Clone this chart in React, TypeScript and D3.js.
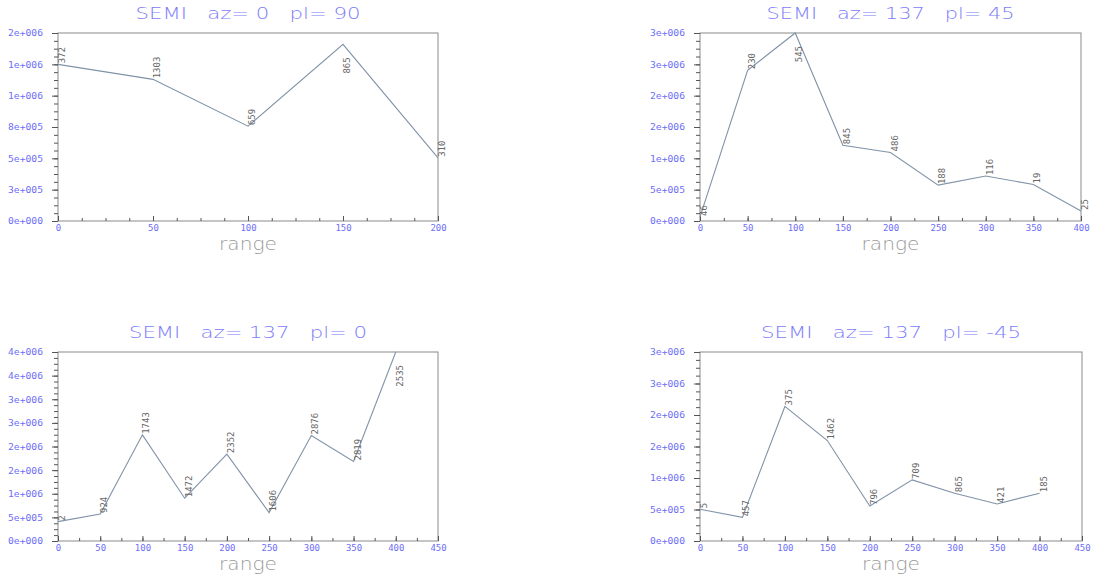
import React, { useEffect, useRef } from "react";
import * as d3 from "d3";

// four directional semivariograms, lag distance vs gamma, with pair counts
const titles = [
  "SEMI   az= 0   pl= 90",
  "SEMI   az= 137   pl= 45",
  "SEMI   az= 137   pl= 0",
  "SEMI   az= 137   pl= -45",
];

const lags1 = [0, 50, 100, 150, 200];
const gamma1 = [1250000, 1130000, 757000, 1410000, 504000];
const pairs1 = ["372", "1303", "659", "865", "310"];

const lags2 = [0, 50, 100, 150, 200, 250, 300, 350, 400];
const gamma2 = [65000, 2405000, 3000000, 1210000, 1094000, 573000, 717000, 584000, 159000];
const pairs2 = ["46", "230", "545", "845", "486", "188", "116", "19", "25"];

const lags3 = [0, 50, 100, 150, 200, 250, 300, 350, 400];
const gamma3 = [410000, 572000, 2247000, 905000, 1837000, 601000, 2233000, 1682000, 4000000];
const pairs3 = ["2", "924", "1743", "1472", "2352", "1606", "2876", "2819", "2535"];

const lags4 = [0, 50, 100, 150, 200, 250, 300, 350, 400];
const gamma4 = [503000, 376000, 2136000, 1595000, 556000, 970000, 758000, 588000, 758000];
const pairs4 = ["5", "457", "375", "1462", "796", "709", "865", "421", "185"];

const xTicks1 = [0, 50, 100, 150, 200];
const xTicks2 = [0, 50, 100, 150, 200, 250, 300, 350, 400];
const xTicks3 = [0, 50, 100, 150, 200, 250, 300, 350, 400, 450];

const yLabels1 = ["0e+000", "3e+005", "5e+005", "8e+005", "1e+006", "1e+006", "2e+006"];
const yLabels2 = ["0e+000", "5e+005", "1e+006", "2e+006", "2e+006", "3e+006", "3e+006"];
const yLabels3 = ["0e+000", "5e+005", "1e+006", "2e+006", "2e+006", "3e+006", "3e+006", "4e+006", "4e+006"];

const panels = [
  { title: titles[0], lags: lags1, gamma: gamma1, pairs: pairs1, xTicks: xTicks1, xMinor: 4, yMax: 1500000, yLabels: yLabels1, box: [58, 33, 438, 221], titleW: 225 },
  { title: titles[1], lags: lags2, gamma: gamma2, pairs: pairs2, xTicks: xTicks2, xMinor: 2, yMax: 3000000, yLabels: yLabels2, box: [700, 33, 1081, 221], titleW: 248 },
  { title: titles[2], lags: lags3, gamma: gamma3, pairs: pairs3, xTicks: xTicks3, xMinor: 2, yMax: 4000000, yLabels: yLabels3, box: [58, 352, 438, 541], titleW: 238 },
  { title: titles[3], lags: lags4, gamma: gamma4, pairs: pairs4, xTicks: xTicks3, xMinor: 2, yMax: 3000000, yLabels: yLabels2, box: [700, 352, 1082, 541], titleW: 260 },
];

const BLUE = "#6e6ef7";

export default function App() {
  const ref = useRef<SVGSVGElement>(null);

  useEffect(() => {
    const svg = d3.select(ref.current);
    svg.selectAll("*").remove();

    panels.forEach((p) => {
      const [x0, y0, x1, y1] = p.box;
      const xMax = p.xTicks[p.xTicks.length - 1];
      const x = d3.scaleLinear().domain([0, xMax]).range([x0, x1]);
      const y = d3.scaleLinear().domain([0, p.yMax]).range([y1, y0]);
      const g = svg.append("g");
      const cx = (x0 + x1) / 2;

      // title
      g.append("text")
        .attr("x", cx)
        .attr("y", y0 - 14)
        .attr("text-anchor", "middle")
        .attr("textLength", p.titleW)
        .attr("lengthAdjust", "spacingAndGlyphs")
        .attr("font-family", "DejaVu Sans")
        .attr("font-weight", 200)
        .attr("font-size", 16)
        .attr("fill", "#7c7cfa")
        .style("white-space", "pre")
        .text(p.title);

      // frame
      g.append("rect")
        .attr("x", x0).attr("y", y0)
        .attr("width", x1 - x0).attr("height", y1 - y0)
        .attr("fill", "none").attr("stroke", "#8a8a8a").attr("stroke-width", 1);

      // y axis
      const nY = p.yLabels.length - 1;
      const yTicks = d3.range(nY + 1).map((i) => (i * p.yMax) / nY);
      const yMinor = d3.range(nY * 4 + 1).map((i) => (i * p.yMax) / (nY * 4));
      g.append("g")
        .attr("transform", `translate(${x0},0)`)
        .call(d3.axisLeft(y).tickValues(yMinor).tickSize(4).tickFormat(() => ""))
        .call((s) => s.select(".domain").remove());
      const ya = g.append("g")
        .attr("transform", `translate(${x0},0)`)
        .call(d3.axisLeft(y).tickValues(yTicks).tickSize(6).tickPadding(9).tickFormat((_, i) => p.yLabels[i]));
      ya.select(".domain").remove();
      ya.selectAll("text")
        .attr("font-family", "DejaVu Sans Mono")
        .attr("font-size", 9)
        .attr("textLength", 35)
        .attr("lengthAdjust", "spacingAndGlyphs")
        .attr("fill", BLUE);

      // x axis
      const xMinor = d3.range(0, xMax + 0.001, 50 / p.xMinor);
      g.append("g")
        .attr("transform", `translate(0,${y1})`)
        .call(d3.axisBottom(x).tickValues(xMinor).tickSize(-3).tickFormat(() => ""))
        .call((s) => s.select(".domain").remove());
      const xa = g.append("g")
        .attr("transform", `translate(0,${y1})`)
        .call(d3.axisBottom(x).tickValues(p.xTicks).tickSize(-5).tickPadding(4).tickFormat(d3.format("d")));
      xa.select(".domain").remove();
      xa.selectAll("text")
        .attr("font-family", "DejaVu Sans Mono")
        .attr("font-size", 9)
        .attr("fill", BLUE);
      g.selectAll(".tick line").attr("stroke", "#555");

      // axis name
      g.append("text")
        .attr("x", cx)
        .attr("y", y1 + 29)
        .attr("text-anchor", "middle")
        .attr("textLength", 58)
        .attr("lengthAdjust", "spacingAndGlyphs")
        .attr("font-family", "DejaVu Sans")
        .attr("font-weight", 200)
        .attr("font-size", 18)
        .attr("fill", "#9a9a9a")
        .text("range");

      // semivariogram line
      const pts = p.lags.map((l, i) => [x(l), y(p.gamma[i])] as [number, number]);
      g.append("path")
        .attr("d", d3.line()(pts))
        .attr("fill", "none")
        .attr("stroke", "#8193a8")
        .attr("stroke-width", 1.1);

      // pair counts
      pts.forEach(([px, py], i) => {
        const len = p.pairs[i].length * 5.5;
        const below = py - len < y0 + 2;
        const ty = below ? py + 13 : py - 1;
        g.append("text")
          .attr("transform", `translate(${px + 7},${ty}) rotate(-90)`)
          .attr("text-anchor", below ? "end" : "start")
          .attr("font-family", "DejaVu Sans Mono")
          .attr("font-size", 9)
          .attr("fill", "#666")
          .text(p.pairs[i]);
      });
    });
  }, []);

  return (
    <div style={{ position: "absolute", left: 0, top: 0, background: "#fff" }}>
      <svg ref={ref} width={1094} height={579} />
    </div>
  );
}
